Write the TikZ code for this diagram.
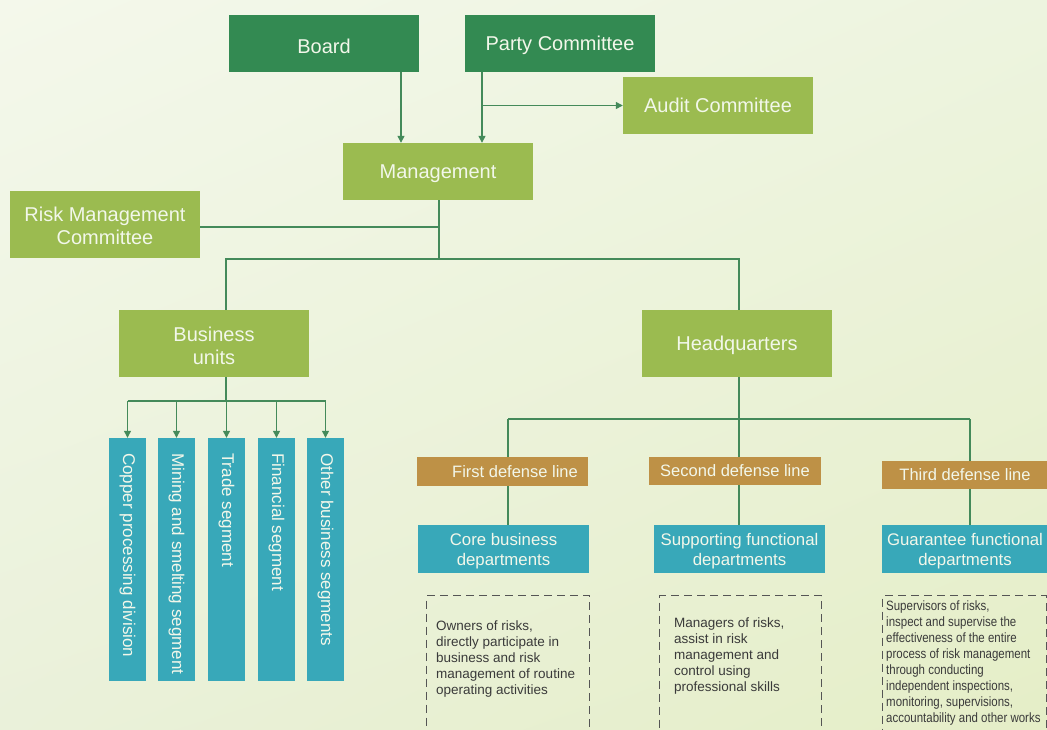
\documentclass[tikz,border=0pt]{standalone}
\usepackage{fontspec}
\setmainfont{Liberation Sans}
\newfontfamily\narrowfont{Liberation Sans}[FakeStretch=0.85]
\usetikzlibrary{arrows.meta,shadings}
\definecolor{dkgreen}{RGB}{51,138,82}
\definecolor{ltgreen}{RGB}{155,187,80}
\definecolor{tealbox}{RGB}{56,168,185}
\definecolor{goldbox}{RGB}{190,145,70}
\definecolor{linec}{RGB}{68,138,90}
\definecolor{boxtext}{RGB}{242,247,234}
\definecolor{bodytext}{RGB}{58,58,58}
\definecolor{dashc}{RGB}{85,85,85}
\definecolor{bgul}{RGB}{244,248,235}
\definecolor{bgur}{RGB}{237,244,223}
\definecolor{bgll}{RGB}{234,241,218}
\definecolor{bglr}{RGB}{229,238,199}
\begin{document}
\begin{tikzpicture}[x=1pt,y=-1pt,
  box/.style={inner sep=0pt, text=boxtext, align=center},
  one/.style={text height=14.3pt, text depth=0pt},
  boxlabel/.style={text=boxtext, align=center, inner sep=0pt},
  topbox/.style={box, fill=dkgreen, minimum width=190pt, minimum height=57pt, font=\fontsize{20}{23}\selectfont},
  greenbox/.style={box, fill=ltgreen, minimum width=190pt, font=\fontsize{20}{23}\selectfont},
  segbox/.style={fill=tealbox, minimum width=37pt, minimum height=243pt, inner sep=0pt},
  segtext/.style={text=boxtext, rotate=-90, anchor=west, inner sep=0pt, font=\fontsize{17}{20}\selectfont},
  linebox/.style={box, fill=goldbox, text height=11.8pt, text depth=0pt, font=\fontsize{16.5}{20}\selectfont},
  deptbox/.style={box, fill=tealbox, minimum height=48pt, font=\fontsize{16.8}{20}\selectfont},
  conn/.style={draw=linec, line width=1.2pt},
  arr/.style={conn, -{Triangle[length=7pt,width=7pt]}},
  dashbox/.style={draw=dashc, line width=1.1pt, dash pattern=on 8pt off 5pt, anchor=north west, inner sep=0pt},
  note/.style={anchor=north west, inner sep=0pt, align=left, text=bodytext, font=\fontsize{13.5}{16}\selectfont}
]
\useasboundingbox (0,0) rectangle (1047,729);
\clip (0,0) rectangle (1047,729);
\shade[upper left=bgul, upper right=bgur, lower left=bgll, lower right=bglr] (0,0) rectangle (1047,729);

% top level
\node[topbox, text height=19.3pt, text depth=0pt] (board) at (324,43.5) {Board};
\node[topbox, one] (party) at (560,43.5) {Party Committee};
\node[greenbox, one, minimum height=57pt] (audit) at (718,105.5) {Audit Committee};
\node[greenbox, one, minimum height=57pt] (mgmt) at (438,171.5) {Management};
\node[greenbox, minimum height=67pt,
  label={[boxlabel, font=\fontsize{20}{23}\selectfont, yshift=-1pt]center:Risk Management\\Committee}] (rmc) at (105,224.5) {};
\node[greenbox, minimum height=67pt,
  label={[boxlabel, font=\fontsize{20}{23}\selectfont, yshift=-2pt]center:Business\\units}] (bu) at (214,343.5) {};
\node[greenbox, one, minimum height=67pt] (hq) at (737,343.5) {Headquarters};

\coordinate (bx) at (401,0);
\coordinate (px) at (482,0);
\draw[arr] (board.south -| bx) -- (mgmt.north -| bx);
\draw[arr] (party.south -| px) -- (mgmt.north -| px);
\draw[arr] (audit.west -| px) -- (audit.west);

\coordinate (m1) at (439,227);
\coordinate (m2) at (439,259);
\coordinate (b1) at (226,259);
\coordinate (h1) at (739,259);
\draw[conn] (mgmt.south -| m1) -- (m2);
\draw[conn] (rmc.east |- m1) -- (m1);
\draw[conn] (bu.north -| b1) -- (b1) -- (h1) -- (hq.north -| h1);

% segments
\node[segbox] (s1) at (127.5,559.5) {};
\node[segbox] (s2) at (176.5,559.5) {};
\node[segbox] (s3) at (226.5,559.5) {};
\node[segbox] (s4) at (276.5,559.5) {};
\node[segbox] (s5) at (325.5,559.5) {};
\node[segtext] (st1) at (127.5,453) {Copper processing division};
\node[segtext] (st2) at (176.5,453) {Mining and smelting segment};
\node[segtext] (st3) at (226.5,453) {Trade segment};
\node[segtext] (st4) at (276.5,453) {Financial segment};
\node[segtext] (st5) at (325.5,453) {Other business segments};

\coordinate (b2) at (226,401);
\draw[conn] (bu.south -| b2) -- (b2);
\draw[conn] (s1.north |- b2) -- (s5.north |- b2);
\foreach \s in {s1,s2,s3,s4,s5}{
  \draw[arr] (\s.north |- b2) -- (\s.north);
}

% defense lines
\node[linebox, minimum width=171pt, minimum height=29pt] (l1) at (502.5,471.5) {\hspace*{25pt}First defense line};
\node[linebox, minimum width=172pt, minimum height=28pt] (l2) at (735,471) {Second defense line};
\node[linebox, minimum width=167pt, minimum height=28pt] (l3) at (965,475) {Third defense line};

\node[deptbox, minimum width=171pt,
  label={[boxlabel, font=\fontsize{16.8}{20}\selectfont, yshift=-2pt]center:Core business\\departments}] (core) at (503.5,549) {};
\node[deptbox, minimum width=171pt,
  label={[boxlabel, font=\fontsize{16.8}{20}\selectfont, yshift=-2pt]center:Supporting functional\\departments}] (supp) at (739.5,549) {};
\node[deptbox, minimum width=166pt,
  label={[boxlabel, font=\fontsize{16.8}{20}\selectfont, yshift=-2pt]center:Guarantee functional\\departments}] (guar) at (965,549) {};

\coordinate (h2) at (739,419);
\coordinate (d1) at (508,419);
\coordinate (d3) at (970,419);
\draw[conn] (hq.south -| h2) -- (h2);
\draw[conn] (d1) -- (d3);
\draw[conn] (d1) -- (l1.north -| d1);
\draw[conn] (h2) -- (l2.north -| h2);
\draw[conn] (d3) -- (l3.north -| d3);
\draw[conn] (l1.south -| d1) -- (core.north -| d1);
\draw[conn] (l2.south -| h2) -- (supp.north -| h2);
\draw[conn] (l3.south -| d3) -- (guar.north -| d3);

% dashed note boxes
\node[dashbox, minimum width=163pt, minimum height=150pt] (n1) at (426,595) {};
\node[dashbox, minimum width=162pt, minimum height=150pt] (n2) at (659,595) {};
\node[dashbox, minimum width=164pt, minimum height=150pt] (n3) at (882,595) {};

\node[note] (t1) at (436,621) {Owners of risks,\\directly participate in\\business and risk\\management of routine\\operating activities};
\node[note] (t2) at (674,618) {Managers of risks,\\assist in risk\\management and\\control using\\professional skills};
\node[note, font=\narrowfont\fontsize{13.5}{16}\selectfont] (t3) at (886,601) {Supervisors of risks,\\inspect and supervise the\\effectiveness of the entire\\process of risk management\\through conducting\\independent inspections,\\monitoring, supervisions,\\accountability and other works};
\end{tikzpicture}
\end{document}
